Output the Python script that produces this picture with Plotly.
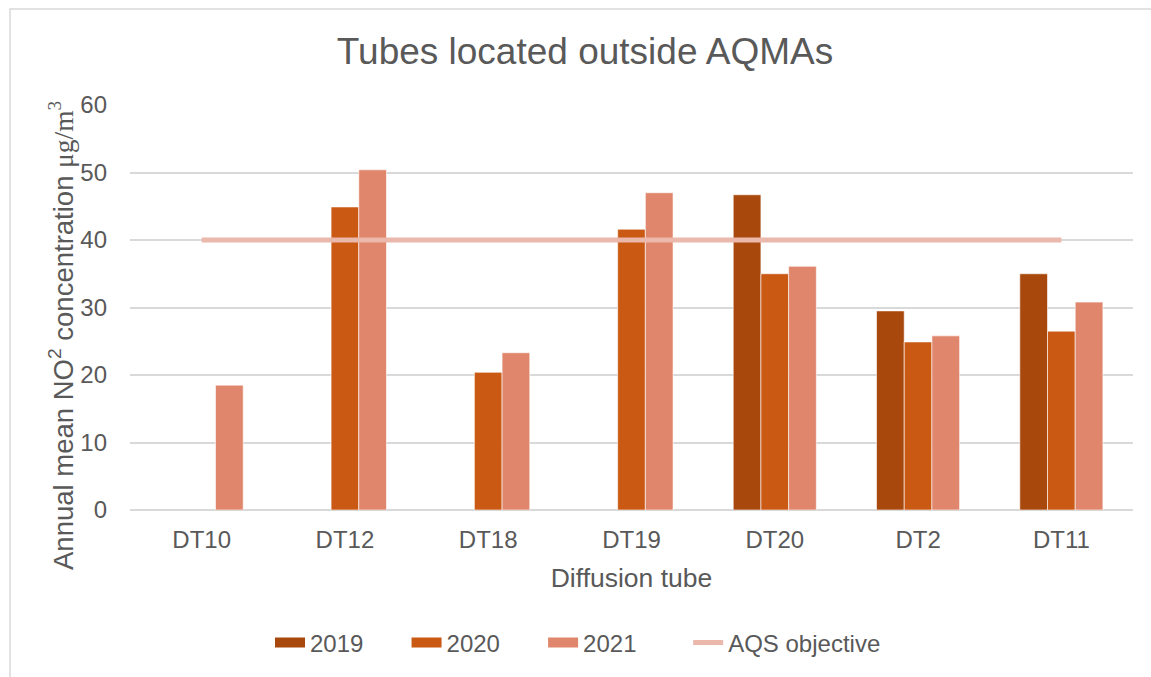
import plotly.graph_objects as go

categories = ["DT10", "DT12", "DT18", "DT19", "DT20", "DT2", "DT11"]
y2019 = [None, None, None, None, 46.7, 29.5, 35.0]
y2020 = [None, 44.9, 20.4, 41.6, 35.0, 24.9, 26.5]
y2021 = [18.5, 50.4, 23.3, 47.0, 36.1, 25.8, 30.8]
aqs = [40, 40, 40, 40, 40, 40, 40]
y_ticks = [0, 10, 20, 30, 40, 50, 60]
series_names = ["2019", "2020", "2021"]
series_colors = ["#A9480D", "#CA5914", "#E0866C"]
aqs_name = "AQS objective"
aqs_color = "#EBB8AC"

font_family = "Liberation Sans, Arial, sans-serif"
grey = "#595959"
pads = ["\u00a0" * 5 + "\u2009", "\u00a0" * 5 + "\u2009", "\u00a0" * 7]

fig = go.Figure()
for name, vals, col in zip(series_names, [y2019, y2020, y2021], series_colors):
    fig.add_trace(go.Bar(x=categories, y=vals, name=name, showlegend=False,
                         marker=dict(color=col, line=dict(color="rgba(255,255,255,0.6)", width=1))))
fig.add_trace(go.Scatter(x=categories, y=aqs, name=aqs_name, mode="lines",
                         showlegend=False, line=dict(color=aqs_color, width=5)))

# legend entries (wide rectangles like the original)
for name, col, pad in zip(series_names, series_colors, pads):
    fig.add_trace(go.Scatter(x=[None], y=[None], name=name + pad, mode="lines",
                             line=dict(color=col, width=13)))
fig.add_trace(go.Scatter(x=[None], y=[None], name=aqs_name, mode="lines",
                         line=dict(color=aqs_color, width=5)))

W, H = 1151, 677
L, R, T, B = 130, 18, 105, 167
pw, ph = W - L - R, H - T - B
fig.add_shape(type="rect", xref="paper", yref="paper",
              x0=(10 - L) / pw, x1=(1200 - L) / pw,
              y0=(H - B - 720) / ph, y1=(H - B - 9) / ph,
              line=dict(color="#D9D9D9", width=1.5), fillcolor="rgba(0,0,0,0)", layer="below")

fig.add_annotation(
    text="Annual mean NO<sup>2</sup> concentration <span style='font-family:Liberation Serif, Times New Roman, serif'>μg/m<sup>3</sup></span>",
    textangle=-90, xref="paper", yref="paper",
    x=(61 - L) / pw, y=(H - B - 336) / ph, xanchor="center", yanchor="middle",
    showarrow=False, font=dict(size=27.5, color=grey, family=font_family))

fig.update_layout(
    width=W, height=H,
    margin=dict(l=L, r=R, t=T, b=B),
    paper_bgcolor="white", plot_bgcolor="white",
    barmode="group", bargap=0.42, bargroupgap=0,
    font=dict(family=font_family, color=grey, size=24),
    title=dict(text="Tubes located outside AQMAs", x=(585 - L) / pw, xref="paper", xanchor="center",
               y=1 - 51 / H, yanchor="middle",
               font=dict(size=37, color=grey, family=font_family)),
    xaxis=dict(title=dict(text="Diffusion tube", font=dict(size=26.5, color=grey), standoff=16),
               tickfont=dict(size=24, color=grey), showgrid=False, showline=False,
               ticks="", ticklabelstandoff=13),
    yaxis=dict(range=[0, 60], tickvals=y_ticks, tickfont=dict(size=24, color=grey),
               showgrid=True, gridcolor="#D9D9D9", gridwidth=1.5,
               zeroline=True, zerolinecolor="#D9D9D9", zerolinewidth=1.5,
               showline=False, ticks="", ticklabelstandoff=22),
    legend=dict(orientation="h", x=(270 - L) / pw, xanchor="left", y=(H - B - 643) / ph, yanchor="middle",
                font=dict(size=24, color=grey),
                traceorder="normal", bgcolor="rgba(0,0,0,0)"),
    showlegend=True,
)

fig.write_html("out.html", config={"displayModeBar": False},
               post_script="document.body.style.margin='0';")
